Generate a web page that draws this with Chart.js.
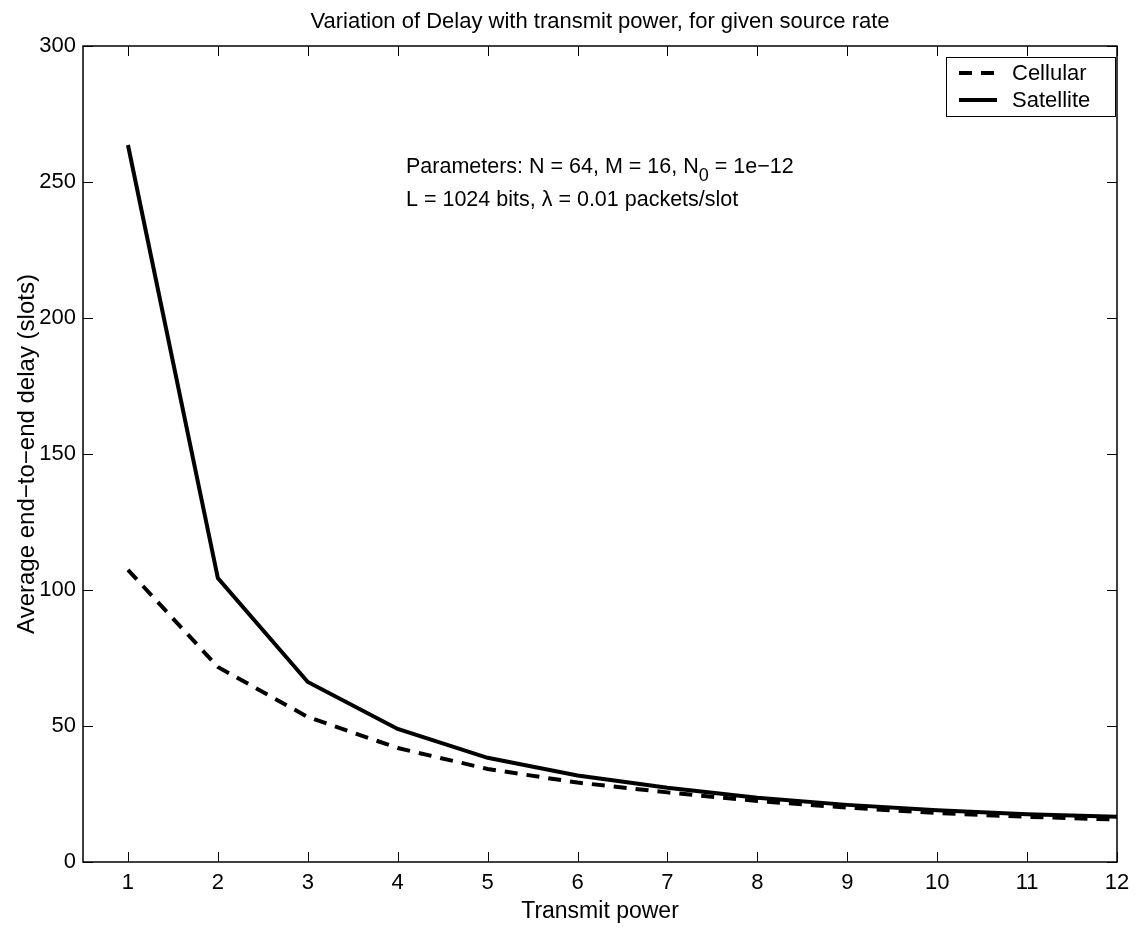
<!DOCTYPE html>
<html>
<head>
<meta charset="utf-8">
<script src="https://cdn.jsdelivr.net/npm/chart.js@4"></script>
<style>
  html, body { margin: 0; padding: 0; background: #fff; }
  #wrap { width: 1146px; height: 928px; }
</style>
</head>
<body>
<div id="wrap"><canvas id="myChart" width="1146" height="928"></canvas></div>
<script>
// donnees du graphe
const power = [1, 2, 3, 4, 5, 6, 7, 8, 9, 10, 11, 12]
const cellular = [107.4, 71.7, 53.3, 41.9, 34.2, 29.2, 25.6, 22.4, 20.0, 18.0, 16.6, 15.6]
const satellite = [263.6, 104.4, 66.2, 48.9, 38.3, 31.8, 27.3, 23.6, 21.0, 19.0, 17.6, 16.6]
const xTicks = [1, 2, 3, 4, 5, 6, 7, 8, 9, 10, 11, 12]
const yTicks = [0, 50, 100, 150, 200, 250, 300]
const seriesNames = ['Cellular', 'Satellite']

const FONT = 'Liberation Sans, Arial, Helvetica, sans-serif'

// cadre, ticks vers l'interieur, titres, legende et texte des parametres
const boxPlugin = {
    id: 'boxPlugin',
    afterDraw(chart) {
        const c = chart.ctx
        const a = chart.chartArea
        const xs = chart.scales.x
        const ys = chart.scales.y
        c.save()
        c.strokeStyle = '#000'
        c.lineWidth = 1.5
        c.strokeRect(a.left, a.top, a.right - a.left, a.bottom - a.top)
        c.lineWidth = 1
        c.beginPath()
        xTicks.forEach(v => {
            const px = Math.round(xs.getPixelForValue(v)) + 0.5
            c.moveTo(px, a.bottom); c.lineTo(px, a.bottom - 10)
            c.moveTo(px, a.top); c.lineTo(px, a.top + 10)
        })
        yTicks.forEach(v => {
            const py = Math.round(ys.getPixelForValue(v)) + 0.5
            c.moveTo(a.left, py); c.lineTo(a.left + 10, py)
            c.moveTo(a.right, py); c.lineTo(a.right - 10, py)
        })
        c.stroke()

        // titre + titres des axes
        c.fillStyle = '#000'
        c.textAlign = 'center'
        c.textBaseline = 'alphabetic'
        c.font = '22px ' + FONT
        c.fillText('Variation of Delay with transmit power, for given source rate', (a.left + a.right) / 2, 28)
        c.font = '23px ' + FONT
        c.fillText('Transmit power', (a.left + a.right) / 2, 918)
        c.save()
        c.translate(34, (a.top + a.bottom) / 2)
        c.rotate(-Math.PI / 2)
        c.font = '24px ' + FONT
        c.fillText('Average end\u2212to\u2212end delay (slots)', 0, 0)
        c.restore()

        // legende
        const lx = 946, ly = 57, lw = 169, lh = 59
        c.fillStyle = '#fff'
        c.fillRect(lx, ly, lw, lh)
        c.lineWidth = 1
        c.strokeRect(lx + 0.5, ly + 0.5, lw, lh)
        const ds = chart.data.datasets
        c.font = '22px ' + FONT
        c.textAlign = 'left'
        c.textBaseline = 'middle'
        ds.forEach((d, i) => {
            const yy = ly + 16 + i * 27
            c.beginPath()
            c.lineWidth = 4
            c.setLineDash(d.borderDash || [])
            c.moveTo(lx + 13, yy); c.lineTo(lx + 51, yy)
            c.stroke()
            c.setLineDash([])
            c.fillStyle = '#000'
            c.fillText(d.label, lx + 66, yy + 1)
        })

        // parametres
        c.font = '21.5px ' + FONT
        c.textBaseline = 'alphabetic'
        let tx = 406, ty = 173
        const t1 = 'Parameters: N = 64, M = 16, N'
        c.fillText(t1, tx, ty)
        tx += c.measureText(t1).width
        c.font = '18px ' + FONT
        c.fillText('0', tx, ty + 8)
        tx += c.measureText('0').width
        c.font = '21.5px ' + FONT
        c.fillText(' = 1e\u221212', tx, ty)
        c.fillText('L = 1024 bits, \u03bb = 0.01 packets/slot', 406, 206)
        c.restore()
    }
}

const ctx = document.getElementById('myChart')
const myChart = new Chart(ctx, {
    type: 'line',
    data: {
        datasets: [
            {
                label: seriesNames[0],
                data: power.map((p, i) => ({ x: p, y: cellular[i] })),
                borderColor: '#000',
                borderWidth: 4,
                borderDash: [13, 9],
                pointRadius: 0,
                tension: 0
            },
            {
                label: seriesNames[1],
                data: power.map((p, i) => ({ x: p, y: satellite[i] })),
                borderColor: '#000',
                borderWidth: 4,
                pointRadius: 0,
                tension: 0
            }
        ]
    },
    options: {
        responsive: false,
        animation: false,
        layout: { padding: { left: 0, top: 46, right: 29, bottom: 0 } },
        plugins: {
            legend: { display: false },
            title: { display: false },
            tooltip: { enabled: false }
        },
        scales: {
            x: {
                type: 'linear',
                min: 0.5,
                max: 12,
                afterBuildTicks: s => { s.ticks = xTicks.map(v => ({ value: v })) },
                afterFit: s => { s.height = 66 },
                grid: { display: false, drawTicks: false },
                border: { display: false },
                ticks: { color: '#000', font: { family: FONT, size: 22 }, padding: 8, maxRotation: 0 }
            },
            y: {
                min: 0,
                max: 300,
                afterBuildTicks: s => { s.ticks = yTicks.map(v => ({ value: v })) },
                afterFit: s => { s.width = 83 },
                grid: { display: false, drawTicks: false },
                border: { display: false },
                ticks: { color: '#000', font: { family: FONT, size: 22 }, padding: 7 }
            }
        }
    },
    plugins: [boxPlugin]
})
</script>
</body>
</html>
